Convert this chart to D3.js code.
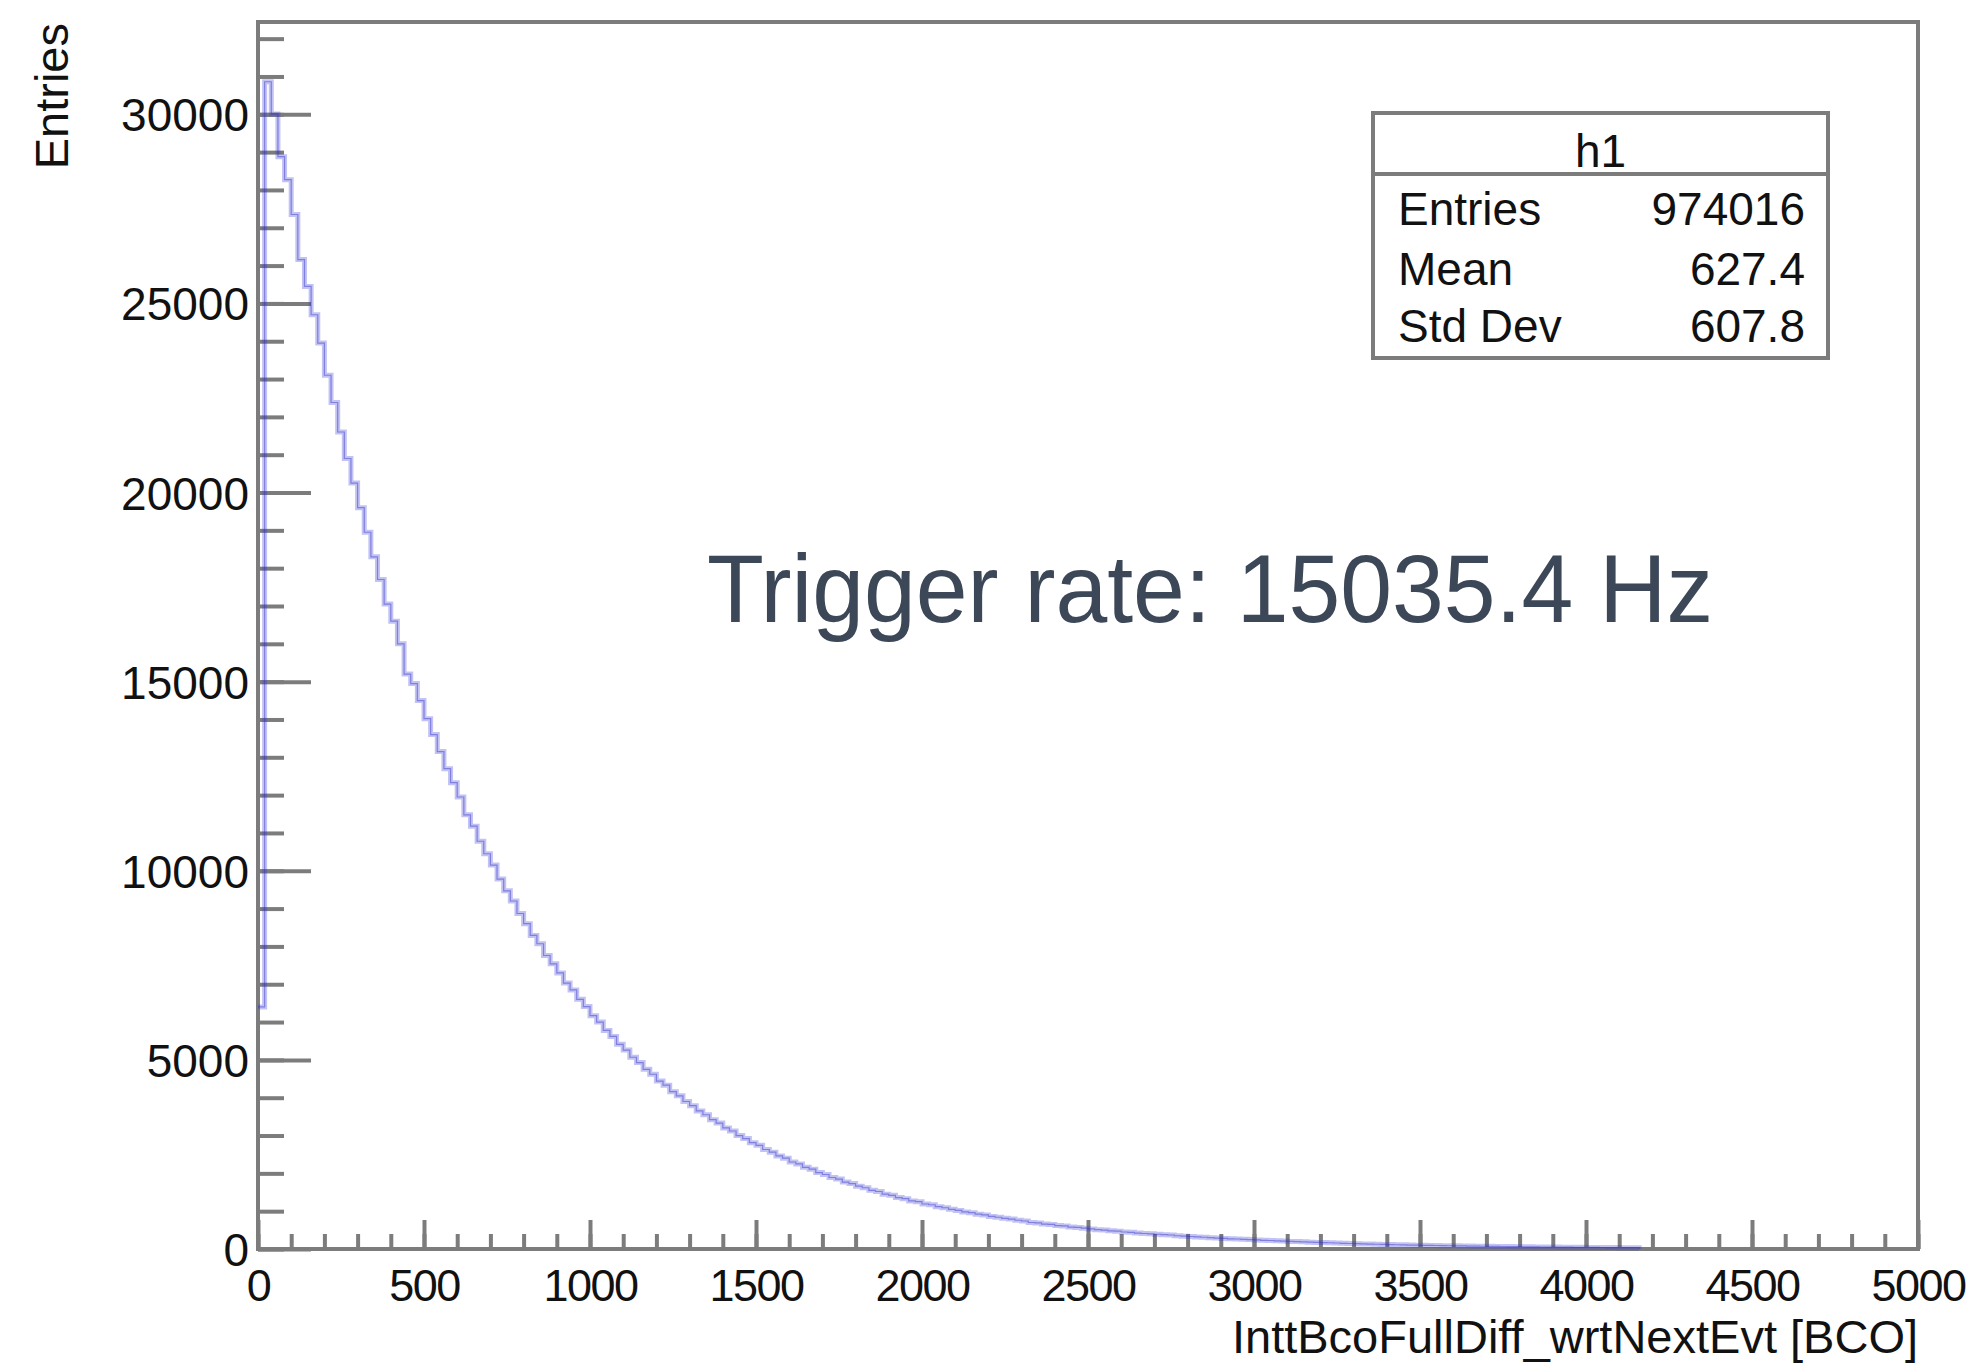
<!DOCTYPE html>
<html>
<head>
<meta charset="utf-8">
<script src="https://cdn.jsdelivr.net/npm/d3@7/dist/d3.min.js"></script>
<style>
  html, body { margin: 0; padding: 0; background: #ffffff; }
  text { font-family: "Liberation Sans", Arial, Helvetica, sans-serif; }
</style>
</head>
<body>
<div id="chart"></div>
<script>
// histogram h1 : 250 bins of 20 BCO, 0..5000
let binWidth = 20;
let xRange = [0, 5000];
let yRange = [0, 32440];
let counts = [
  6400, 30860, 30010, 28880, 28270, 27350, 26160, 25450, 24700, 23950,
  23100, 22380, 21600, 20900, 20250, 19600, 18950, 18300, 17700, 17050,
  16600, 16000, 15200, 14950, 14500, 14020, 13600, 13150, 12700, 12330,
  11950, 11480, 11180, 10780, 10450, 10150, 9780, 9470, 9200, 8870,
  8600, 8290, 8070, 7760, 7540, 7300, 7030, 6850, 6600, 6410,
  6170, 6000, 5780, 5620, 5410, 5260, 5070, 4930, 4750, 4620,
  4440, 4330, 4160, 4050, 3900, 3790, 3650, 3550, 3420, 3330,
  3200, 3120, 3000, 2920, 2810, 2740, 2630, 2560, 2460, 2400,
  2300, 2250, 2160, 2110, 2020, 1970, 1890, 1850, 1770, 1730,
  1660, 1620, 1550, 1520, 1450, 1420, 1360, 1330, 1270, 1250,
  1190, 1170, 1120, 1090, 1050, 1020, 980, 960, 920, 900,
  860, 840, 810, 790, 760, 740, 700, 690, 660, 650,
  620, 610, 580, 570, 550, 530, 510, 500, 480, 470,
  450, 440, 420, 410, 400, 390, 380, 370, 350, 340,
  330, 320, 310, 300, 290, 280, 270, 265, 255, 250,
  240, 230, 225, 215, 210, 200, 195, 190, 180, 175,
  170, 165, 158, 150, 145, 140, 135, 130, 126, 122,
  118, 112, 110, 105, 102, 98, 95, 92, 89, 86,
  84, 80, 78, 76, 73, 70, 68, 66, 64, 61,
  60, 57, 55, 53, 52, 50, 48, 47, 45, 44,
  42, 41, 39, 38, 37, 36, 35, 34, 0, 0,
  0, 0, 0, 0, 0, 0, 0, 0, 0, 0,
  0, 0, 0, 0, 0, 0, 0, 0, 0, 0,
  0, 0, 0, 0, 0, 0, 0, 0, 0, 0,
  0, 0, 0, 0, 0, 0, 0, 0, 0, 0
];
let xMajor = [0, 500, 1000, 1500, 2000, 2500, 3000, 3500, 4000, 4500, 5000];
let yMajor = [0, 5000, 10000, 15000, 20000, 25000, 30000];
let statNames = ["Entries", "Mean", "Std Dev"];
let statValues = ["974016", "627.4", "607.8"];
let histName = "h1";
let xTitle = "InttBcoFullDiff_wrtNextEvt [BCO]";
let yTitle = "Entries";
let note = "Trigger rate: 15035.4 Hz";

let svgWidth = 1979, svgHeight = 1363;
let padLeft = 258, padRight = 1918, padTop = 22, padBottom = 1249;
let axisColor = "#7c7c7c";

let svg = d3.select("#chart").append("svg")
    .attr("width", svgWidth)
    .attr("height", svgHeight);

svg.append("rect").attr("width", svgWidth).attr("height", svgHeight).attr("fill", "#ffffff");

let x = d3.scaleLinear().domain(xRange).range([padLeft, padRight]);
let y = d3.scaleLinear().domain(yRange).range([padBottom, padTop]);

// minor ticks
let xMinor = d3.range(xRange[0], xRange[1] + 1, 100);
let yMinor = d3.range(0, yRange[1], 1000);

let gxMinor = svg.append("g").attr("transform", "translate(0," + padBottom + ")")
    .call(d3.axisBottom(x).tickValues(xMinor).tickSize(-15).tickFormat(""));
let gyMinor = svg.append("g").attr("transform", "translate(" + padLeft + ",0)")
    .call(d3.axisLeft(y).tickValues(yMinor).tickSize(-26).tickFormat(""));

let gx = svg.append("g").attr("transform", "translate(0," + padBottom + ")")
    .call(d3.axisBottom(x).tickValues(xMajor).tickSize(-29).tickPadding(20).tickFormat(d3.format("d")));
let gy = svg.append("g").attr("transform", "translate(" + padLeft + ",0)")
    .call(d3.axisLeft(y).tickValues(yMajor).tickSize(-53).tickPadding(9).tickFormat(d3.format("d")));

[gxMinor, gyMinor, gx, gy].forEach(function(g) {
  g.select(".domain").remove();
  g.selectAll(".tick line").attr("stroke", axisColor).attr("stroke-width", 4);
  g.selectAll(".tick text").attr("fill", "#111111").attr("font-size", 46)
      .attr("font-family", "'Liberation Sans', Arial, Helvetica, sans-serif");
});
gy.selectAll(".tick text").attr("dy", "0.36em");
gx.selectAll(".tick text").attr("font-size", 45).attr("letter-spacing", -1.5);

// frame
svg.append("rect")
    .attr("x", padLeft).attr("y", padTop)
    .attr("width", padRight - padLeft).attr("height", padBottom - padTop)
    .attr("fill", "none")
    .attr("stroke", axisColor)
    .attr("stroke-width", 4);

// histogram outline (ROOT style step line); empty trailing bins lie under the axis
let lastFilled = d3.max(counts.map(function(c, i) { return c > 0 ? i : -1; }));
let path = d3.path();
counts.slice(0, lastFilled + 1).forEach(function(c, i) {
  let x0 = x(i * binWidth), x1 = x((i + 1) * binWidth);
  if (i == 0) path.moveTo(x0, y(c));
  else path.lineTo(x0, y(c));
  path.lineTo(x1, y(c));
});
path.lineTo(x((lastFilled + 1) * binWidth), y(0));

svg.append("path")
    .attr("d", path.toString())
    .attr("fill", "none")
    .attr("stroke", "#3434d8")
    .attr("stroke-opacity", 0.3)
    .attr("stroke-width", 5);
svg.append("path")
    .attr("d", path.toString())
    .attr("fill", "none")
    .attr("stroke", "#2e2ec8")
    .attr("stroke-opacity", 0.45)
    .attr("stroke-width", 1.2);

// axis titles
svg.append("text")
    .attr("x", padRight).attr("y", 1353)
    .attr("text-anchor", "end")
    .attr("font-size", 47)
    .attr("fill", "#111111")
    .text(xTitle);
svg.append("text")
    .attr("transform", "translate(68,23) rotate(-90)")
    .attr("text-anchor", "end")
    .attr("font-size", 47)
    .attr("fill", "#111111")
    .text(yTitle);

// stats box
let box = { x: 1373, y: 113, w: 455, h: 245, head: 61 };
let stats = svg.append("g");
stats.append("rect")
    .attr("x", box.x).attr("y", box.y)
    .attr("width", box.w).attr("height", box.h)
    .attr("fill", "#ffffff")
    .attr("stroke", axisColor)
    .attr("stroke-width", 4);
stats.append("line")
    .attr("x1", box.x).attr("x2", box.x + box.w)
    .attr("y1", box.y + box.head).attr("y2", box.y + box.head)
    .attr("stroke", axisColor).attr("stroke-width", 4);
stats.append("text")
    .attr("x", box.x + box.w / 2).attr("y", 167)
    .attr("text-anchor", "middle")
    .attr("font-size", 46)
    .attr("fill", "#111111")
    .text(histName);
let rowBase = [225, 285, 342];
statNames.forEach(function(n, i) {
  stats.append("text")
      .attr("x", box.x + 25).attr("y", rowBase[i])
      .attr("font-size", 46).attr("fill", "#111111")
      .text(n);
  stats.append("text")
      .attr("x", box.x + box.w - 23).attr("y", rowBase[i])
      .attr("text-anchor", "end")
      .attr("font-size", 46).attr("fill", "#111111")
      .text(statValues[i]);
});

// annotation
svg.append("text")
    .attr("x", 707).attr("y", 622)
    .attr("font-size", 96)
    .attr("fill", "#3c4757")
    .attr("textLength", 1006)
    .attr("lengthAdjust", "spacingAndGlyphs")
    .text(note);
</script>
</body>
</html>
